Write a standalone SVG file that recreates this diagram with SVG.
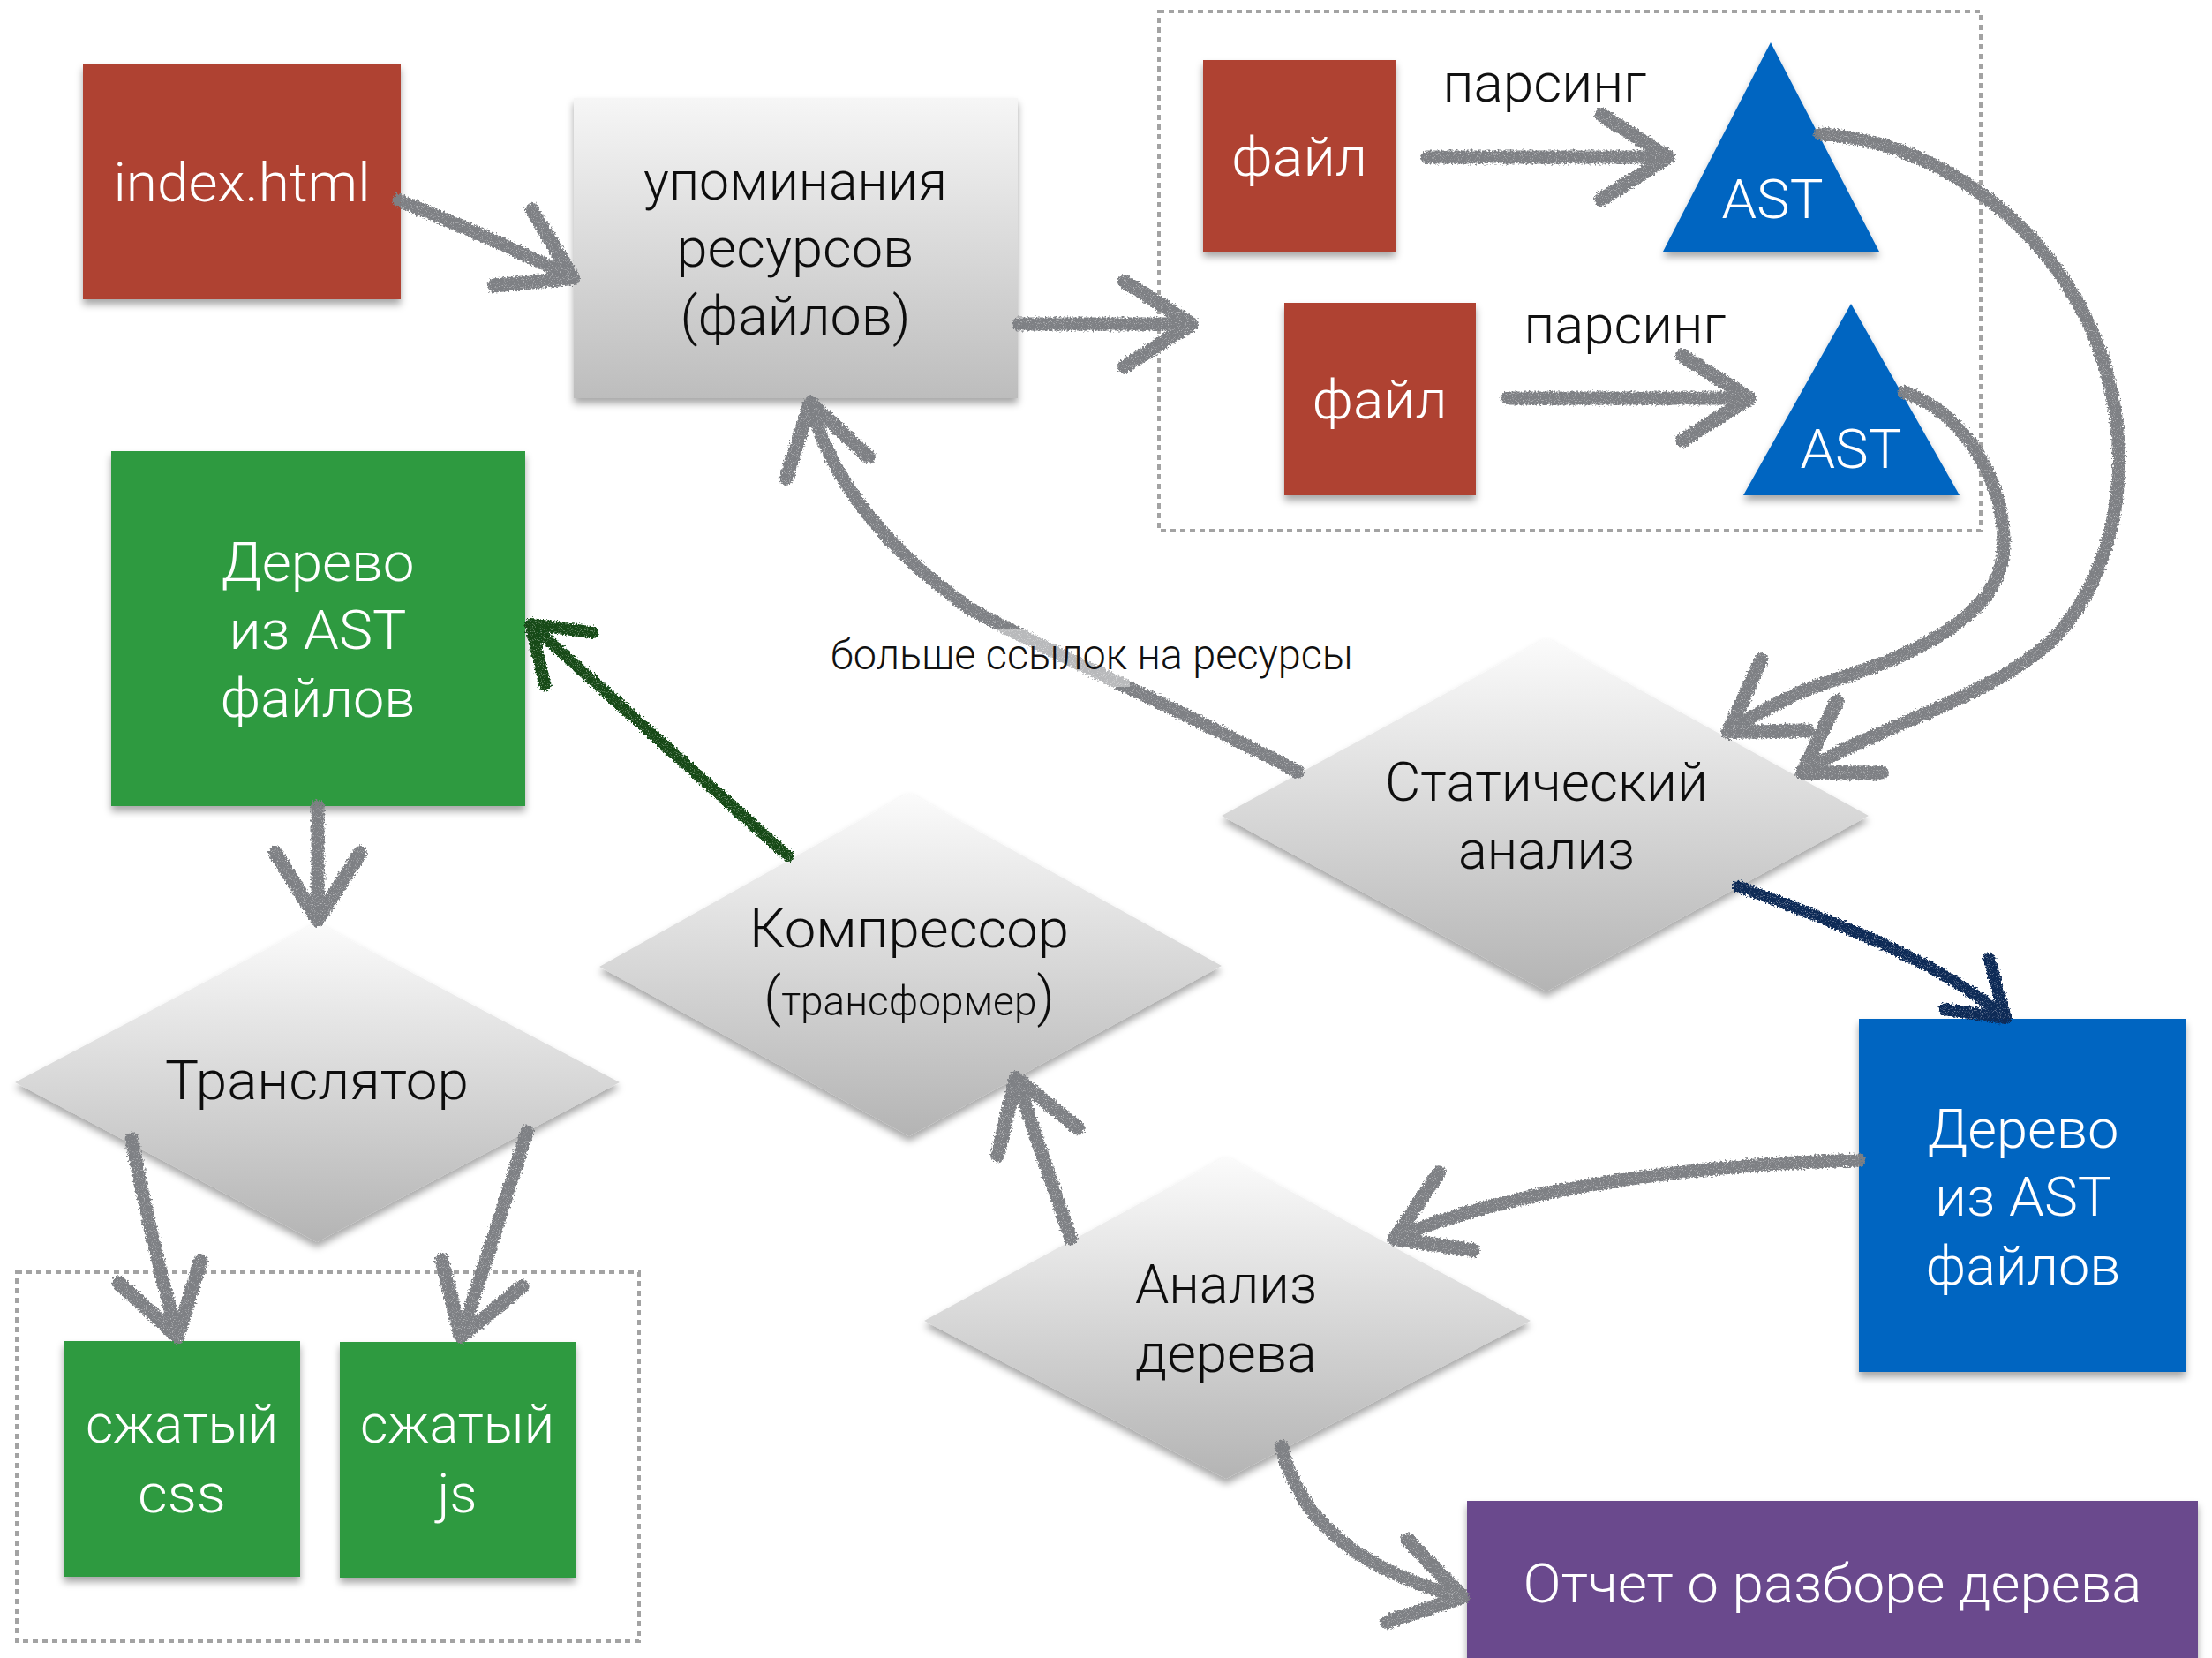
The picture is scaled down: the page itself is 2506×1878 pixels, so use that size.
<svg xmlns="http://www.w3.org/2000/svg" width="2506" height="1878" viewBox="0 0 2506 1878">
<defs>
<style>
.t{font-family:Roboto,"Liberation Sans",sans-serif;font-weight:300;font-size:61px;text-anchor:middle}
.w{fill:#ffffff}
.k{fill:#111111}
.gray{stroke:#7e8084;stroke-width:15;fill:none;stroke-linecap:round;stroke-linejoin:round}
.dash{fill:none;stroke:#a3a3a3;stroke-width:4;stroke-dasharray:6 5}
.red{fill:#af4230}
.grn{fill:#2e9a41}
.blu{fill:#0565c1}
.pur{fill:#6b4a8d}
</style>
<linearGradient id="gbox" x1="0" y1="0" x2="0" y2="1">
<stop offset="0" stop-color="#f6f6f6"/><stop offset="1" stop-color="#bdbdbd"/>
</linearGradient>
<linearGradient id="gdia" x1="0" y1="0" x2="0" y2="1">
<stop offset="0" stop-color="#fbfbfb"/><stop offset="1" stop-color="#b4b4b4"/>
</linearGradient>
<filter id="sh" x="-10%" y="-10%" width="120%" height="125%">
<feDropShadow dx="0" dy="6" stdDeviation="4" flood-color="#000" flood-opacity="0.35"/>
</filter>
<filter id="rough" x="-5%" y="-5%" width="110%" height="110%">
<feTurbulence type="fractalNoise" baseFrequency="0.45" numOctaves="2" seed="3" result="n"/>
<feDisplacementMap in="SourceGraphic" in2="n" scale="7" xChannelSelector="R" yChannelSelector="G" result="d"/>
<feTurbulence type="fractalNoise" baseFrequency="0.9" numOctaves="1" seed="11" result="n2"/>
<feColorMatrix in="n2" type="matrix" values="0 0 0 0 0  0 0 0 0 0  0 0 0 0 0  0 0 0 -2 2.1" result="mask"/>
<feComposite in="d" in2="mask" operator="in"/>
</filter>
<marker id="ag" markerUnits="userSpaceOnUse" markerWidth="200" markerHeight="200" refX="0" refY="0" orient="auto" overflow="visible">
<path d="M-76,-48 L0,0 L-76,48" fill="none" stroke="#7e8084" stroke-width="16" stroke-linejoin="round" stroke-linecap="round"/>
</marker>
<marker id="agn" markerUnits="userSpaceOnUse" markerWidth="200" markerHeight="200" refX="0" refY="0" orient="auto" overflow="visible">
<path d="M-58,-40 L0,0 L-58,40" fill="none" stroke="#124a14" stroke-width="14" stroke-linejoin="round" stroke-linecap="round"/>
</marker>
<marker id="anv" markerUnits="userSpaceOnUse" markerWidth="200" markerHeight="200" refX="0" refY="0" orient="auto" overflow="visible">
<path d="M-58,-38 L0,0 L-58,38" fill="none" stroke="#0d2a57" stroke-width="14" stroke-linejoin="round" stroke-linecap="round"/>
</marker>
</defs>
<rect width="2506" height="1878" fill="#ffffff"/>

<g id="group-parse">
<rect class="dash" x="1313" y="13" width="931" height="588"/>
</g>
<g id="group-out">
<rect class="dash" x="19" y="1441" width="705" height="418"/>
</g>

<g id="index-html" filter="url(#sh)">
<rect class="red" x="94" y="72" width="360" height="267"/>
<text class="t w" x="274" y="228" textLength="291" lengthAdjust="spacingAndGlyphs">index.html</text>
</g>
<g id="mentions" filter="url(#sh)">
<rect fill="url(#gbox)" x="650" y="111" width="503" height="340"/>
<text class="t k" x="901" y="226" textLength="344" lengthAdjust="spacingAndGlyphs">упоминания</text>
<text class="t k" x="901" y="302" textLength="269" lengthAdjust="spacingAndGlyphs">ресурсов</text>
<text class="t k" x="901" y="379" textLength="261" lengthAdjust="spacingAndGlyphs">(файлов)</text>
</g>
<g id="file1" filter="url(#sh)">
<rect class="red" x="1363" y="68" width="218" height="217"/>
<text class="t w" x="1472" y="199" textLength="154" lengthAdjust="spacingAndGlyphs">файл</text>
</g>
<g id="file2" filter="url(#sh)">
<rect class="red" x="1455" y="343" width="217" height="218"/>
<text class="t w" x="1563" y="474" textLength="153" lengthAdjust="spacingAndGlyphs">файл</text>
</g>
<g id="ast1" filter="url(#sh)">
<polygon class="blu" points="2006,48 2129,285 1884,285"/>
<text class="t w" x="2008" y="247" textLength="115" lengthAdjust="spacingAndGlyphs">AST</text>
</g>
<g id="ast2" filter="url(#sh)">
<polygon class="blu" points="2097,344 2220,561 1975,561"/>
<text class="t w" x="2097" y="530" textLength="115" lengthAdjust="spacingAndGlyphs">AST</text>
</g>
<g id="parse-label1"><text class="t k" x="1750" y="115" textLength="231" lengthAdjust="spacingAndGlyphs">парсинг</text></g>
<g id="parse-label2"><text class="t k" x="1841" y="389" textLength="229" lengthAdjust="spacingAndGlyphs">парсинг</text></g>

<g id="tree-green" filter="url(#sh)">
<rect class="grn" x="126" y="511" width="469" height="402"/>
<text class="t w" x="360" y="658" textLength="219" lengthAdjust="spacingAndGlyphs">Дерево</text>
<text class="t w" x="360" y="735" textLength="201" lengthAdjust="spacingAndGlyphs">из AST</text>
<text class="t w" x="360" y="812" textLength="221" lengthAdjust="spacingAndGlyphs">файлов</text>
</g>
<g id="static" filter="url(#sh)">
<polygon fill="url(#gdia)" points="1752,723 2117,924 1752,1123 1384,924"/>
<text class="t k" x="1752" y="907" textLength="366" lengthAdjust="spacingAndGlyphs">Статический</text>
<text class="t k" x="1752" y="984" textLength="200" lengthAdjust="spacingAndGlyphs">анализ</text>
</g>
<g id="compressor" filter="url(#sh)">
<polygon fill="url(#gdia)" points="1030,898 1384,1094 1030,1287 679,1095"/>
<text class="t k" x="1030" y="1073" textLength="362" lengthAdjust="spacingAndGlyphs">Компрессор</text>
<text class="t k" x="1030" y="1150"><tspan font-size="62">(</tspan><tspan font-size="46">трансформер</tspan><tspan font-size="62">)</tspan></text>
</g>
<g id="translator" filter="url(#sh)">
<polygon fill="url(#gdia)" points="359,1045 702,1226 359,1407 17,1226"/>
<text class="t k" x="359" y="1245" textLength="344" lengthAdjust="spacingAndGlyphs">Транслятор</text>
</g>
<g id="tree-analysis" filter="url(#sh)">
<polygon fill="url(#gdia)" points="1389,1310 1734,1496 1389,1675 1047,1496"/>
<text class="t k" x="1389" y="1476" textLength="206" lengthAdjust="spacingAndGlyphs">Анализ</text>
<text class="t k" x="1389" y="1554" textLength="206" lengthAdjust="spacingAndGlyphs">дерева</text>
</g>
<g id="tree-blue" filter="url(#sh)">
<rect class="blu" x="2106" y="1154" width="370" height="400"/>
<text class="t w" x="2292" y="1300" textLength="217" lengthAdjust="spacingAndGlyphs">Дерево</text>
<text class="t w" x="2292" y="1377" textLength="200" lengthAdjust="spacingAndGlyphs">из AST</text>
<text class="t w" x="2292" y="1455" textLength="221" lengthAdjust="spacingAndGlyphs">файлов</text>
</g>
<g id="css" filter="url(#sh)">
<rect class="grn" x="72" y="1519" width="268" height="267"/>
<text class="t w" x="206" y="1634" textLength="218" lengthAdjust="spacingAndGlyphs">сжатый</text>
<text class="t w" x="206" y="1713" textLength="100" lengthAdjust="spacingAndGlyphs">css</text>
</g>
<g id="js" filter="url(#sh)">
<rect class="grn" x="385" y="1520" width="267" height="267"/>
<text class="t w" x="518" y="1634" textLength="220" lengthAdjust="spacingAndGlyphs">сжатый</text>
<text class="t w" x="518" y="1713">js</text>
</g>
<g id="report" filter="url(#sh)">
<rect class="pur" x="1662" y="1700" width="828" height="190"/>
<text class="t w" x="2076" y="1815" textLength="701" lengthAdjust="spacingAndGlyphs">Отчет о разборе дерева</text>
</g>

<g id="connectors" filter="url(#rough)">
<path class="gray" marker-end="url(#ag)" d="M452,227 Q560,270 649,315"/>
<path class="gray" marker-end="url(#ag)" d="M1154,367 L1350,367"/>
<path class="gray" marker-end="url(#ag)" d="M1617,178 L1890,178"/>
<path class="gray" marker-end="url(#ag)" d="M1708,451 L1982,451"/>
<path class="gray" marker-end="url(#ag)" d="M2062,152 C2200,160 2330,260 2380,400 C2420,520 2400,640 2330,720 C2260,790 2130,820 2042,875"/>
<path class="gray" marker-end="url(#ag)" d="M2157,444 C2230,470 2272,550 2270,620 C2268,700 2160,745 2078,770 C2030,785 1990,808 1958,829"/>
<path class="gray" marker-end="url(#ag)" d="M1470,874 C1330,800 1180,735 1100,690 C1000,620 940,540 918,456"/>
<path fill="none" stroke="#124a14" stroke-width="13" stroke-linecap="round" marker-end="url(#agn)" d="M893,970 L601,707"/>
<path class="gray" marker-end="url(#ag)" d="M360,913 L360,1042"/>
<path class="gray" marker-end="url(#ag)" d="M149,1290 Q170,1400 201,1514"/>
<path class="gray" marker-end="url(#ag)" d="M597,1282 Q560,1400 522,1514"/>
<path fill="none" stroke="#0d2a57" stroke-width="13" stroke-linecap="round" marker-end="url(#anv)" d="M1969,1004 C2070,1040 2200,1090 2272,1153"/>
<path class="gray" marker-end="url(#ag)" d="M2106,1314 C1900,1320 1700,1350 1580,1403"/>
<path class="gray" marker-end="url(#ag)" d="M1213,1403 L1151,1221"/>
<path class="gray" marker-end="url(#ag)" d="M1452,1638 C1470,1720 1540,1780 1657,1809"/>
</g>

<g id="label-more">
<rect x="1100" y="712" width="180" height="66" fill="#ffffff" opacity="0.45"/>
<text class="t k" x="1237" y="758" style="font-size:48px" textLength="592" lengthAdjust="spacingAndGlyphs">больше ссылок на ресурсы</text>
</g>
</svg>
